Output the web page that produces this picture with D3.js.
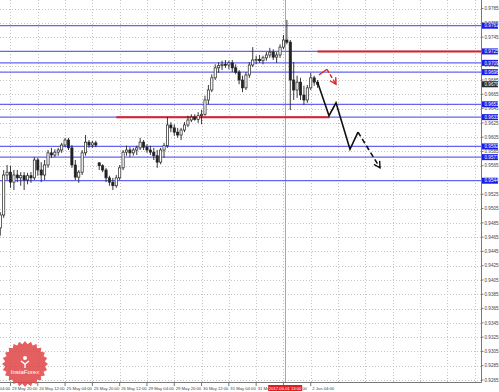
<!DOCTYPE html>
<html lang="en">
<head>
    <meta charset="utf-8" />
    <title>price chart</title>
    <style>
        body { margin: 0; background: #fff; }
        svg { display: block; font-family: "Liberation Sans", Arial, sans-serif; }
    </style>
</head>
<body>
<script src="https://d3js.org/d3.v7.min.js"></script>
<div id="my_chart"></div>
<script>
    // H2 candles, first one starts at hourly bar 10 (hourly bar 0 = 23 May 04:00)
    const firstBar = 10, barStep = 2;
    const opens = [0.9478,0.9496,0.9552,0.9556,0.9542,0.9552,0.9548,0.9551,0.9545,0.9551,
        0.9548,0.9573,0.9559,0.9552,0.9566,0.9583,0.9580,0.9584,0.9587,0.9594,
        0.9601,0.9590,0.9566,0.9549,0.9556,0.9583,0.9598,0.9594,0.9597,0.9569,
        0.9565,0.9559,0.9548,0.9542,0.9537,0.9548,0.9562,0.9584,0.9587,0.9583,
        0.9587,0.9590,0.9598,0.9591,0.9587,0.9584,0.9579,0.9570,0.9587,0.9593,
        0.9622,0.9618,0.9612,0.9608,0.9615,0.9622,0.9629,0.9633,0.9630,0.9635,
        0.9637,0.9657,0.9671,0.9688,0.9702,0.9705,0.9707,0.9706,0.9709,0.9702,
        0.9696,0.9685,0.9674,0.9692,0.9706,0.9713,0.9714,0.9712,0.9716,0.9720,
        0.9724,0.9717,0.9720,0.9731,0.9741,0.9738,0.9685,0.9671,0.9682,0.9664,
        0.9657,0.9674,0.9688,0.9682];
    const highs = [0.9500,0.9559,0.9566,0.9565,0.9559,0.9559,0.9556,0.9556,0.9555,0.9556,
        0.9577,0.9576,0.9570,0.9573,0.9587,0.9590,0.9588,0.9590,0.9597,0.9604,
        0.9604,0.9594,0.9573,0.9559,0.9587,0.9608,0.9601,0.9600,0.9600,0.9570,
        0.9567,0.9562,0.9551,0.9548,0.9552,0.9566,0.9587,0.9593,0.9591,0.9590,
        0.9593,0.9604,0.9601,0.9595,0.9593,0.9590,0.9587,0.9590,0.9597,0.9633,
        0.9626,0.9623,0.9618,0.9618,0.9626,0.9635,0.9637,0.9637,0.9640,0.9643,
        0.9663,0.9678,0.9693,0.9707,0.9710,0.9712,0.9713,0.9712,0.9713,0.9707,
        0.9699,0.9691,0.9696,0.9710,0.9731,0.9719,0.9720,0.9719,0.9724,0.9730,
        0.9728,0.9724,0.9735,0.9748,0.9769,0.9741,0.9710,0.9691,0.9688,0.9677,
        0.9678,0.9695,0.9691,0.9685];
    const lows = [0.9467,0.9492,0.9545,0.9534,0.9531,0.9542,0.9537,0.9531,0.9539,0.9541,
        0.9545,0.9551,0.9542,0.9545,0.9562,0.9576,0.9577,0.9579,0.9583,0.9591,
        0.9587,0.9562,0.9545,0.9541,0.9552,0.9579,0.9590,0.9590,0.9591,0.9559,
        0.9556,0.9542,0.9537,0.9531,0.9534,0.9545,0.9559,0.9579,0.9577,0.9579,
        0.9580,0.9587,0.9587,0.9583,0.9580,0.9573,0.9562,0.9567,0.9576,0.9590,
        0.9612,0.9607,0.9604,0.9601,0.9612,0.9619,0.9626,0.9628,0.9625,0.9623,
        0.9635,0.9651,0.9668,0.9685,0.9695,0.9699,0.9702,0.9700,0.9696,0.9693,
        0.9679,0.9668,0.9671,0.9688,0.9703,0.9707,0.9709,0.9707,0.9712,0.9716,
        0.9713,0.9709,0.9716,0.9728,0.9735,0.9643,0.9657,0.9660,0.9657,0.9650,
        0.9653,0.9671,0.9677,0.9674];
    const closes = [0.9496,0.9552,0.9556,0.9542,0.9552,0.9548,0.9551,0.9545,0.9551,0.9548,
        0.9573,0.9559,0.9552,0.9566,0.9583,0.9580,0.9584,0.9587,0.9594,0.9601,
        0.9590,0.9566,0.9549,0.9556,0.9583,0.9598,0.9594,0.9597,0.9594,0.9565,
        0.9559,0.9548,0.9542,0.9537,0.9548,0.9562,0.9584,0.9587,0.9583,0.9587,
        0.9590,0.9598,0.9591,0.9587,0.9584,0.9579,0.9570,0.9587,0.9593,0.9622,
        0.9618,0.9612,0.9608,0.9615,0.9622,0.9629,0.9633,0.9630,0.9635,0.9637,
        0.9657,0.9671,0.9688,0.9702,0.9705,0.9707,0.9706,0.9709,0.9702,0.9696,
        0.9685,0.9674,0.9692,0.9706,0.9713,0.9714,0.9712,0.9716,0.9720,0.9724,
        0.9717,0.9720,0.9731,0.9741,0.9738,0.9685,0.9671,0.9682,0.9664,0.9657,
        0.9674,0.9688,0.9682,0.9679];

    // time axis labels, every 16 hourly bars
    const timeTicks = [0,16,32,48,64,80,96,112,128,144,160,176,192];
    const timeLabels = ["23 May 04:00","23 May 20:00","24 May 12:00","25 May 04:00","25 May 20:00",
        "26 May 12:00","29 May 04:00","29 May 20:00","30 May 12:00","31 May 04:00",
        "31 May 20:00","1 Jun 12:00","2 Jun 04:00"];

    // price axis labels
    const priceTicks = [0.9265,0.9285,0.9305,0.9325,0.9345,0.9365,0.9385,0.9405,0.9425,0.9445,
        0.9465,0.9485,0.9505,0.9525,0.9545,0.9565,0.9585,0.9605,0.9625,0.9645,
        0.9665,0.9685,0.9705,0.9725,0.9745,0.9765,0.9785];

    // horizontal levels (blue lines)
    const levels = [0.9761,0.9725,0.9709,0.9696,0.9651,0.9633,0.9592,0.9577,0.9544];
    // red level segments [from bar, to bar, price]
    const redLevels = [[196,292,0.9725],[78,203,0.9633]];
    // vertical marker
    const markerBar = 177, markerLabel = "2017.06.01 13:00";
    // forecast arrows [bar, price]
    const blackSolid = [[196,0.9682],[202.7,0.9635],[206.8,0.9653],[215,0.9588],[219.7,0.9612]];
    const blackDashed = [[219.7,0.9612],[232.6,0.9562]];
    const redSolid = [[196.8,0.9692],[201.5,0.9700]];
    const redDashed = [[201.5,0.9700],[206.8,0.9679]];

    const width = 499, height = 392;
    const plotRight = 481, plotBottom = 382;
    const fs = "4.6px", tfs = "4.2px";

    const svg = d3.select("#my_chart")
        .append("svg")
        .attr("width", width)
        .attr("height", height);

    const x = d3.scaleLinear().domain([0, 292]).range([-16.8, 481.35]);
    const y = d3.scaleLinear().domain([0.92622, 0.9797]).range([plotBottom, 0]);

    svg.append("defs").append("clipPath").attr("id", "plot")
        .append("rect").attr("x", 0).attr("y", 0).attr("width", plotRight).attr("height", plotBottom);

    const plot = svg.append("g").attr("clip-path", "url(#plot)");

    // grid
    plot.selectAll("hgrid").data(priceTicks).join("line")
        .attr("x1", 0).attr("x2", plotRight)
        .attr("y1", d => Math.round(y(d)) + 0.5).attr("y2", d => Math.round(y(d)) + 0.5)
        .attr("stroke", "#c4c4c4").attr("stroke-dasharray", "1,2");
    plot.selectAll("vgrid").data(d3.range(0, 293, 16)).join("line")
        .attr("x1", d => Math.round(x(d)) + 0.5).attr("x2", d => Math.round(x(d)) + 0.5)
        .attr("y1", 0).attr("y2", plotBottom)
        .attr("stroke", "#c4c4c4").attr("stroke-dasharray", "1,2");

    // vertical marker line
    plot.append("line")
        .attr("x1", Math.round(x(markerBar)) + 0.5).attr("x2", Math.round(x(markerBar)) + 0.5)
        .attr("y1", 0).attr("y2", plotBottom)
        .attr("stroke", "#ee8a8a").attr("stroke-width", 1);

    // blue levels
    plot.selectAll("levels").data(levels).join("line")
        .attr("x1", 0).attr("x2", plotRight)
        .attr("y1", d => y(d)).attr("y2", d => y(d))
        .attr("stroke", "#6464f0").attr("stroke-width", 1.2);

    // red levels
    plot.selectAll("redlevels").data(redLevels).join("line")
        .attr("x1", d => x(d[0])).attr("x2", d => x(d[1]))
        .attr("y1", d => y(d[2])).attr("y2", d => y(d[2]))
        .attr("stroke", "#dd2020").attr("stroke-width", 2);

    // candles
    const candles = opens.map((o, i) => ({bar: firstBar + i * barStep, o: o, h: highs[i], l: lows[i], c: closes[i]}));
    const bw = 2.2;
    plot.selectAll("wicks").data(candles).join("line")
        .attr("x1", d => x(d.bar)).attr("x2", d => x(d.bar))
        .attr("y1", d => y(d.h)).attr("y2", d => y(d.l))
        .attr("stroke", "#222").attr("stroke-width", 0.9);
    plot.selectAll("bodies").data(candles).join("rect")
        .attr("x", d => x(d.bar) - bw / 2)
        .attr("y", d => y(Math.max(d.o, d.c)))
        .attr("width", bw)
        .attr("height", d => Math.max(1, Math.abs(y(d.o) - y(d.c))))
        .attr("fill", d => d.c >= d.o ? "#fff" : "#222")
        .attr("stroke", "#222").attr("stroke-width", 0.7);

    // forecast arrows
    const line = d3.line().x(d => x(d[0])).y(d => y(d[1]));
    plot.append("path").attr("d", line(blackSolid))
        .attr("fill", "none").attr("stroke", "#111").attr("stroke-width", 1.6);
    plot.append("path").attr("d", line(blackDashed))
        .attr("fill", "none").attr("stroke", "#111").attr("stroke-width", 1.6).attr("stroke-dasharray", "5,3");
    plot.append("path").attr("d", line(redSolid))
        .attr("fill", "none").attr("stroke", "#e02020").attr("stroke-width", 1.4);
    plot.append("path").attr("d", line(redDashed))
        .attr("fill", "none").attr("stroke", "#e02020").attr("stroke-width", 1.4).attr("stroke-dasharray", "4,2");

    // arrow heads at the end of the dashed legs
    function arrowHead(seg, color) {
        const a = seg[seg.length - 2], b = seg[seg.length - 1];
        const x1 = x(a[0]), y1 = y(a[1]), x2 = x(b[0]), y2 = y(b[1]);
        const ang = Math.atan2(y2 - y1, x2 - x1), len = 7;
        const p1 = [x2 - len * Math.cos(ang - 0.5), y2 - len * Math.sin(ang - 0.5)];
        const p2 = [x2 - len * Math.cos(ang + 0.5), y2 - len * Math.sin(ang + 0.5)];
        plot.append("path").attr("d", `M${p1}L${x2},${y2}L${p2}`)
            .attr("fill", "none").attr("stroke", color).attr("stroke-width", 1.4);
    }
    arrowHead(blackDashed, "#111");
    arrowHead(redDashed, "#e02020");

    // axes frame
    svg.append("line").attr("x1", plotRight + 0.5).attr("x2", plotRight + 0.5)
        .attr("y1", 0).attr("y2", plotBottom + 0.5).attr("stroke", "#777");
    svg.append("line").attr("x1", 0).attr("x2", plotRight + 0.5)
        .attr("y1", plotBottom + 0.5).attr("y2", plotBottom + 0.5).attr("stroke", "#777");

    // price labels
    svg.selectAll("pticks").data(priceTicks).join("line")
        .attr("x1", plotRight).attr("x2", plotRight + 2.5)
        .attr("y1", d => y(d)).attr("y2", d => y(d)).attr("stroke", "#777");
    svg.selectAll("plabels").data(priceTicks).join("text")
        .attr("x", plotRight + 3.5).attr("y", d => y(d) + 1.7)
        .style("font-size", fs).attr("fill", "#444")
        .text(d => d3.format(".4f")(d));

    // boxes for levels and current price
    function priceBox(p, color) {
        const g = svg.append("g");
        g.append("rect").attr("x", plotRight + 1).attr("y", y(p) - 3)
            .attr("width", width - plotRight - 2).attr("height", 6).attr("fill", color);
        g.append("text").attr("x", plotRight + 3.5).attr("y", y(p) + 1.7)
            .style("font-size", fs).attr("fill", "#fff")
            .text(d3.format(".4f")(p));
    }
    levels.forEach(p => priceBox(p, "#1c1ce6"));
    priceBox(closes[closes.length - 1], "#2a2a2a");

    // time labels
    svg.selectAll("tticks").data(timeTicks).join("line")
        .attr("x1", d => x(d)).attr("x2", d => x(d))
        .attr("y1", plotBottom).attr("y2", plotBottom + 4).attr("stroke", "#777");
    svg.selectAll("tlabels").data(timeTicks).join("text")
        .attr("x", d => x(d) + 1.5).attr("y", plotBottom + 7.5)
        .style("font-size", tfs).attr("fill", "#444")
        .text((d, i) => timeLabels[i]);

    // marker time box
    svg.append("rect").attr("x", x(markerBar) - 17).attr("y", plotBottom + 3)
        .attr("width", 34).attr("height", 6).attr("fill", "#e02020");
    svg.append("text").attr("x", x(markerBar)).attr("y", plotBottom + 7.6)
        .attr("text-anchor", "middle").style("font-size", tfs).attr("fill", "#fff")
        .text(markerLabel);

    // watermark badge
    const badge = svg.append("g").attr("transform", "translate(25,364)").style("opacity", 0.85);
    const teeth = d3.range(48).map(i => [i * Math.PI * 2 / 48, i % 2 ? 20 : 23]);
    badge.append("path").attr("d", d3.lineRadial().curve(d3.curveLinearClosed)(teeth))
        .attr("fill", "#e04545");
    badge.append("circle").attr("cx", 0).attr("cy", -6).attr("r", 2).attr("fill", "#fff");
    badge.append("path").attr("d", "M-4,-3 L0,0 L4,-3 M0,0 L0,4")
        .attr("stroke", "#fff").attr("stroke-width", 1.4).attr("fill", "none");
    badge.append("text").attr("x", 0).attr("y", 10)
        .attr("text-anchor", "middle").style("font-size", "6px").attr("fill", "#fff")
        .text("InstaForex");
</script>
</body>
</html>
